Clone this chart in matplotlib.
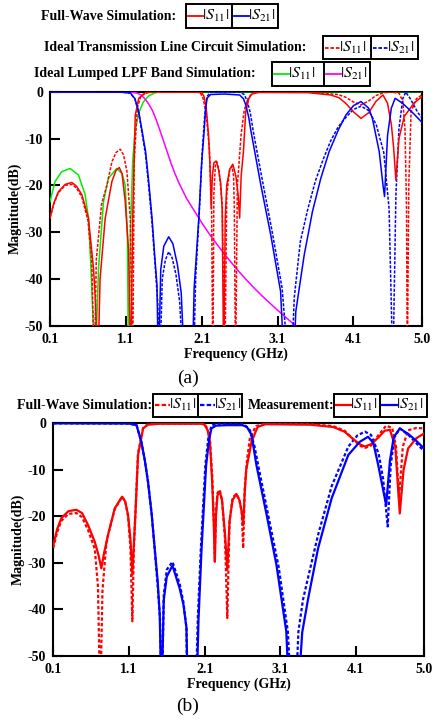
import numpy as np
import matplotlib
matplotlib.use('Agg')
from matplotlib import pyplot as plt
from matplotlib.patches import Rectangle

plt.rcParams['font.family'] = ['Liberation Serif', 'DejaVu Serif']
plt.rcParams['mathtext.fontset'] = 'stix'
plt.rcParams['axes.unicode_minus'] = False

# ---------------- data: panel (a) ----------------
# full-wave simulation |S11| (red solid)
a_fw_s11_f = [0.10, 0.15, 0.21, 0.30, 0.387, 0.45, 0.52, 0.607, 0.673, 0.70,
              0.73, 0.76, 0.828, 0.916, 0.97, 1.013, 1.05, 1.092, 1.136, 1.165,
              1.19, 1.224, 1.27, 1.36, 1.50, 2.00, 2.10, 2.13, 2.16, 2.19,
              2.21, 2.225, 2.24, 2.26, 2.29, 2.32, 2.35, 2.37, 2.39, 2.41,
              2.43, 2.47, 2.51, 2.55, 2.58, 2.60, 2.62, 2.65, 2.68, 2.72,
              2.76, 2.85, 3.50, 3.80, 3.91, 4.00, 4.10, 4.20, 4.30, 4.40,
              4.49, 4.55, 4.60, 4.63, 4.66, 4.70, 4.77, 4.90, 5.00]
a_fw_s11_db = [-27, -23.8, -21.4, -19.8, -19.4, -20.2, -22, -27, -37.7, -45,
               -60, -40, -27, -19.2, -16.8, -16.2, -17.5, -23.5, -34, -60,
               -27, -5, -1.4, -0.2, -0.05, -0.05, -0.2, -1.0, -3.5, -9.3,
               -16, -25, -18, -15.2, -14.8, -16.5, -19.5, -25, -60, -27,
               -20, -16.5, -15.5, -18, -22, -27, -18, -12.8, -4.3, -1.5,
               -0.5, -0.15, -0.2, -0.7, -1.3, -2.5, -4.3, -5.7, -4.5, -2.0,
               -0.7, -2.5, -7, -12, -18.9, -10, -5.3, -2.4, -1.1]

# full-wave simulation |S21| (blue solid)
a_fw_s21_f = [0.10, 1.00, 1.16, 1.22, 1.27, 1.31, 1.36, 1.40, 1.445, 1.48,
              1.51, 1.53, 1.56, 1.60, 1.665, 1.72, 1.78, 1.83, 1.876, 1.975,
              2.00, 2.062, 2.10, 2.128, 2.15, 2.17, 2.216, 2.40, 2.60, 2.65,
              2.68, 2.72, 2.75, 2.88, 3.01, 3.14, 3.19, 3.31, 3.34, 3.45,
              3.56, 3.67, 3.78, 3.90, 4.00, 4.10, 4.20, 4.30, 4.35, 4.44,
              4.49, 4.51, 4.55, 4.60, 4.65, 4.75, 4.90, 5.00]
a_fw_s21_db = [0, -0.02, -0.3, -1.5, -4.3, -8, -12.8, -19, -27, -35,
               -41.3, -60, -38, -33, -31, -32.5, -37, -43, -60, -60,
               -42, -27, -15, -9.3, -4, -1.4, -0.6, -0.5, -0.7, -1.5,
               -2.8, -5.5, -8.5, -20, -30.6, -42.7, -60, -60, -47, -35,
               -25.6, -18.5, -12.8, -8.2, -5.0, -3.0, -2.1, -3.5, -5.7, -12.8,
               -20, -22.4, -9.3, -3.5, -1.4, -2.5, -4.8, -6.5]

# ideal transmission line circuit |S11| (red dotted)
a_tl_s11_f = [0.10, 0.15, 0.21, 0.30, 0.39, 0.45, 0.52, 0.60, 0.65, 0.685,
              0.71, 0.78, 0.85, 0.916, 0.97, 1.026, 1.07, 1.114, 1.158, 1.19,
              1.21, 1.25, 1.30, 1.40, 2.00, 2.08, 2.12, 2.16, 2.20, 2.23,
              2.247, 2.26, 2.28, 2.30, 2.33, 2.37, 2.405, 2.43, 2.47, 2.50,
              2.52, 2.53, 2.546, 2.57, 2.62, 2.66, 2.71, 2.76, 2.85, 3.50,
              3.90, 4.00, 4.10, 4.20, 4.30, 4.40, 4.50, 4.60, 4.70, 4.75,
              4.78, 4.80, 4.81, 4.83, 4.86, 4.93, 5.00]
a_tl_s11_db = [-27, -24, -21.6, -20, -19.8, -20.6, -22.5, -27.5, -36, -60,
               -36, -24, -20, -15, -13, -12.3, -13.5, -17, -27, -60,
               -15, -3.5, -0.8, -0.1, -0.05, -0.2, -1.5, -5, -12, -25,
               -60, -22, -15.5, -15, -17, -24, -60, -22, -16.5, -16,
               -18, -25, -60, -20, -9, -4, -1.5, -0.4, -0.1, -0.1,
               -0.6, -1.2, -2.2, -2.8, -2.0, -0.8, -0.2, -0.1, -0.3, -2,
               -8, -25, -60, -20, -4.3, -1.5, -0.7]

# ideal transmission line circuit |S21| (blue dotted)
a_tl_s21_f = [0.10, 1.00, 1.16, 1.22, 1.27, 1.31, 1.36, 1.40, 1.445, 1.49,
              1.52, 1.546, 1.58, 1.62, 1.665, 1.71, 1.76, 1.81, 1.86, 1.99,
              2.02, 2.07, 2.11, 2.14, 2.17, 2.22, 2.60, 2.66, 2.70, 2.74,
              2.78, 2.90, 3.03, 3.16, 3.25, 3.28, 3.32, 3.40, 3.50, 3.60,
              3.70, 3.80, 3.90, 4.00, 4.10, 4.20, 4.30, 4.40, 4.50, 4.57,
              4.62, 4.66, 4.70, 4.75, 4.79, 4.85, 4.95, 5.00]
a_tl_s21_db = [0, -0.02, -0.3, -1.6, -4.6, -8.5, -13.5, -20, -28, -38,
               -45, -60, -40, -36, -34.2, -35.5, -39, -45, -60, -60,
               -40, -25, -12, -5, -1, -0.1, -0.1, -0.6, -2, -4.5,
               -8.5, -19, -30, -42, -60, -60, -44, -32, -25, -19,
               -14.5, -10.5, -7.5, -5.5, -3.8, -3.1, -4, -7, -13, -25,
               -60, -22, -8, -1.5, -0.1, -1.5, -4.5, -5.5]

# ideal lumped LPF band |S11| (green) and |S21| (magenta)
a_lp_s11_f = [0.10, 0.166, 0.254, 0.365, 0.475, 0.563, 0.607, 0.64, 0.695, 0.74,
              0.805, 0.87, 0.98, 1.05, 1.092, 1.12, 1.136, 1.16, 1.19, 1.22,
              1.27, 1.33, 1.40, 1.49, 1.60, 5.00]
a_lp_s11_db = [-23.5, -19.2, -17.1, -16.4, -17.8, -22, -27, -37.7, -60, -37.7,
               -23.5, -18.5, -16.4, -17.5, -20, -30.6, -60, -30, -15, -8.5,
               -4.5, -2.2, -0.9, -0.2, 0, 0]
a_lp_s21_f = [0.10, 1.00, 1.15, 1.25, 1.30, 1.35, 1.40, 1.45, 1.50, 1.55,
              1.60, 1.65, 1.70, 1.75, 1.80, 1.90, 2.00, 2.10, 2.20, 2.30,
              2.40, 2.50, 2.60, 2.70, 2.80, 2.90, 3.00, 3.10, 3.20, 3.30, 3.35]
a_lp_s21_db = [0, 0, -0.05, -0.3, -0.7, -1.5, -2.6, -4.0, -6.0, -8.3,
               -10.7, -13.1, -15.5, -17.6, -19.5, -22.8, -25.4, -28.0, -30.4, -32.6,
               -34.7, -36.7, -38.6, -40.4, -42.1, -43.7, -45.2, -46.7, -48.1, -49.5, -50.2]

# ---------------- data: panel (b) ----------------
# measurement |S11| (red solid)
b_ms_s11_f = [0.10, 0.15, 0.206, 0.30, 0.404, 0.48, 0.56, 0.648, 0.70, 0.735,
              0.77, 0.824, 0.912, 1.009, 1.05, 1.088, 1.12, 1.145, 1.165, 1.185,
              1.22, 1.287, 1.35, 1.50, 2.05, 2.10, 2.14, 2.17, 2.20, 2.22,
              2.235, 2.25, 2.27, 2.30, 2.33, 2.367, 2.40, 2.43, 2.47, 2.52,
              2.56, 2.59, 2.61, 2.63, 2.65, 2.72, 2.80, 2.90, 3.50, 3.80,
              3.95, 4.05, 4.15, 4.22, 4.30, 4.40, 4.48, 4.55, 4.62, 4.68,
              4.73, 4.79, 4.90, 5.00]
b_ms_s11_db = [-26.2, -22.8, -20.4, -18.9, -18.6, -19.3, -21.9, -25.5, -28.5, -31.2,
               -28, -24, -18.3, -15.8, -16.8, -19.7, -25, -32.6, -26, -19.7,
               -6.8, -1.1, -0.3, -0.1, -0.1, -0.3, -1.5, -4, -12.6, -21,
               -29.8, -20, -15.5, -14.7, -16.5, -23.3, -31.5, -21, -16.5, -15.2,
               -16.5, -19, -21.9, -15, -10, -4, -0.8, -0.2, -0.3, -0.8,
               -1.8, -3.2, -4.5, -5.0, -4.5, -3, -1.6, -1.4, -5, -19.4,
               -10, -5.4, -3.2, -2.2]

# measurement |S21| (blue solid)
b_ms_s21_f = [0.10, 1.10, 1.20, 1.264, 1.31, 1.352, 1.40, 1.44, 1.48, 1.507,
              1.53, 1.56, 1.60, 1.675, 1.77, 1.82, 1.86, 1.88, 1.99, 2.02,
              2.06, 2.12, 2.16, 2.19, 2.25, 2.40, 2.60, 2.66, 2.72, 2.785,
              2.92, 3.05, 3.18, 3.22, 3.33, 3.39, 3.47, 3.60, 3.78, 4.00,
              4.15, 4.26, 4.33, 4.395, 4.45, 4.50, 4.55, 4.60, 4.68, 4.80,
              4.90, 5.00]
b_ms_s21_db = [0, -0.05, -0.4, -4, -8, -12.6, -19.5, -26.9, -34, -41.2,
               -60, -38, -33, -30.6, -35.5, -39, -44, -60, -60, -42,
               -26.9, -9, -3.5, -1.1, -0.5, -0.4, -0.4, -0.8, -2.5, -9,
               -19.7, -30.5, -44.8, -60, -60, -45, -37.6, -26.9, -16.1, -6.8,
               -4.0, -2.9, -4.2, -9, -13.5, -17.6, -8, -3, -1.1, -2.4,
               -3.8, -5.4]

# full-wave simulation |S11| (red dotted)
b_fw_s11_f = [0.10, 0.15, 0.206, 0.30, 0.404, 0.48, 0.56, 0.648, 0.69, 0.72,
              0.75, 0.80, 0.824, 0.912, 1.009, 1.05, 1.088, 1.12, 1.145, 1.165,
              1.185, 1.22, 1.287, 1.35, 1.50, 2.05, 2.10, 2.14, 2.17, 2.20,
              2.22, 2.235, 2.25, 2.27, 2.30, 2.33, 2.37, 2.40, 2.43, 2.47,
              2.52, 2.56, 2.59, 2.61, 2.63, 2.66, 2.70, 2.78, 2.90, 3.50,
              3.80, 3.95, 4.05, 4.15, 4.22, 4.30, 4.40, 4.50, 4.58, 4.63,
              4.67, 4.72, 4.79, 4.90, 5.00]
b_fw_s11_db = [-26.8, -23.5, -21, -19.5, -19.3, -20.2, -23, -27, -35, -60,
               -36, -26, -24, -18.5, -15.8, -16.8, -20, -27, -42.6, -27,
               -19.5, -6.5, -1.0, -0.2, -0.05, -0.05, -0.2, -1.2, -3.5, -11,
               -20, -28, -19, -15, -14.3, -16.5, -25, -41.9, -21, -16,
               -15.2, -16.5, -19, -26.9, -14, -8, -3, -0.6, -0.1, -0.2,
               -0.6, -1.6, -3.2, -4.8, -5.3, -4.8, -2.5, -0.5, -1.0, -5,
               -16.1, -5, -1.5, -1.0, -1.1]

# full-wave simulation |S21| (blue dotted)
b_fw_s21_f = [0.10, 1.10, 1.20, 1.264, 1.31, 1.352, 1.40, 1.44, 1.48, 1.51,
              1.535, 1.56, 1.60, 1.675, 1.77, 1.82, 1.86, 1.87, 1.98, 2.01,
              2.05, 2.11, 2.15, 2.19, 2.25, 2.40, 2.62, 2.70, 2.76, 2.82,
              2.95, 3.08, 3.20, 3.25, 3.30, 3.34, 3.40, 3.47, 3.60, 3.78,
              4.00, 4.12, 4.22, 4.30, 4.40, 4.46, 4.52, 4.56, 4.61, 4.68,
              4.80, 4.90, 5.00]
b_fw_s21_db = [0, -0.05, -0.4, -4, -8, -12.6, -19.5, -27, -35, -42,
               -60, -37, -31.5, -29.8, -34.5, -38.5, -44, -60, -60, -42,
               -27, -9, -3, -0.5, -0.1, -0.1, -0.2, -1.5, -5, -10,
               -20.5, -31, -44.8, -60, -60, -44.8, -38, -33, -24, -13.5,
               -5, -2.6, -1.8, -2.5, -6.5, -12, -22.2, -9, -3, -1.1,
               -2.6, -4.3, -6.0]

# axes ticks
xticks = [0.1, 1.1, 2.1, 3.1, 4.1, 5.0]
xtick_labels = ['0.1', '1.1', '2.1', '3.1', '4.1', '5.0']
yticks = [0, -10, -20, -30, -40, -50]
ytick_labels = ['0', '-10', '-20', '-30', '-40', '-50']

RED, BLUE, GREEN, MAG = '#ff0000', '#0000ff', '#00ee00', '#ff00ff'
DOT = (0, (2, 1))

W, H = 432, 721
fig = plt.figure(figsize=(W / 100, H / 100), dpi=100)


def px_axes(x0, y0, x1, y1):
    return fig.add_axes([x0 / W, 1 - y1 / H, (x1 - x0) / W, (y1 - y0) / H])


def style(ax):
    ax.set_xlim(0.1, 5.0)
    ax.set_ylim(-50, 0)
    ax.set_xticks(xticks)
    ax.set_xticklabels(xtick_labels)
    ax.set_yticks(yticks)
    ax.set_yticklabels(ytick_labels)
    ax.tick_params(axis='both', direction='in', length=7, width=1.5, labelsize=10)
    ax.tick_params(axis='x', pad=5)
    ax.tick_params(axis='y', pad=5)
    for lab in ax.get_xticklabels() + ax.get_yticklabels():
        lab.set_fontweight('bold')
    for s in ax.spines.values():
        s.set_linewidth(1.5)
    ax.set_xlabel('Frequency (GHz)', fontsize=10, fontweight='bold', labelpad=1)
    ax.set_ylabel('Magnitude(dB)', fontsize=10, fontweight='bold', labelpad=2)


# panel (a)
ax_a = px_axes(50, 91.7, 421.7, 325.7)
lw = 1.1
ax_a.plot(a_lp_s11_f, a_lp_s11_db, color=GREEN, lw=lw, zorder=3)
ax_a.plot(a_lp_s21_f, a_lp_s21_db, color=MAG, lw=lw, zorder=3)
ax_a.plot(a_tl_s11_f, a_tl_s11_db, color=RED, lw=lw, ls=DOT, zorder=3)
ax_a.plot(a_tl_s21_f, a_tl_s21_db, color=BLUE, lw=lw, ls=DOT, zorder=3)
ax_a.plot(a_fw_s11_f, a_fw_s11_db, color=RED, lw=lw, zorder=3)
ax_a.plot(a_fw_s21_f, a_fw_s21_db, color=BLUE, lw=lw, zorder=3)
style(ax_a)

# panel (b)
ax_b = px_axes(53.3, 423.3, 424, 655.7)
lw = 1.6
ax_b.plot(b_fw_s11_f, b_fw_s11_db, color=RED, lw=lw, ls=(0, (1.5, 1)), zorder=3)
ax_b.plot(b_fw_s21_f, b_fw_s21_db, color=BLUE, lw=lw, ls=(0, (1.5, 1)), zorder=3)
ax_b.plot(b_ms_s11_f, b_ms_s11_db, color=RED, lw=lw, zorder=3)
ax_b.plot(b_ms_s21_f, b_ms_s21_db, color=BLUE, lw=lw, zorder=3)
style(ax_b)

# overlay in pixel coords for legends / captions
ov = fig.add_axes([0, 0, 1, 1])
ov.set_xlim(0, W)
ov.set_ylim(H, 0)
ov.axis('off')


def legend_box(title, title_x, x0, xm, x1, y0, y1, entries, lw_line=1.3):
    yc = (y0 + y1) / 2
    ov.text(title_x, yc, title, ha='right', va='center', fontsize=10, fontweight='bold')
    ov.add_patch(Rectangle((x0, y0), x1 - x0, y1 - y0, fill=False, ec='k', lw=1.4))
    ov.plot([xm, xm], [y0, y1], color='k', lw=1.4)
    for xa, (color, ls, label) in zip([x0, xm], entries):
        ov.plot([xa + 2, xa + 17], [yc, yc], color=color, ls=ls, lw=lw_line)
        ov.text(xa + 16, yc, label, ha='left', va='center', fontsize=11.5)


S11, S21 = r'$|S_{11}|$', r'$|S_{21}|$'
legend_box('Full-Wave Simulation:', 176, 186, 232, 278, 4.3, 28.3,
           [(RED, '-', S11), (BLUE, '-', S21)])
legend_box('Ideal Transmission Line Circuit Simulation:', 306, 323, 370.7, 418, 35.7, 59.3,
           [(RED, DOT, S11), (BLUE, DOT, S21)])
legend_box('Ideal Lumped LPF Band Simulation:', 256, 271.7, 324.3, 370, 61.7, 86,
           [(GREEN, '-', S11), (MAG, '-', S21)])
legend_box('Full-Wave Simulation:', 152, 153.3, 198.3, 242.3, 394, 416.7,
           [(RED, DOT, S11), (BLUE, DOT, S21)], lw_line=1.6)
legend_box('Measurement:', 334, 334.3, 380, 427, 394, 416.7,
           [(RED, '-', S11), (BLUE, '-', S21)], lw_line=1.6)

ov.text(188, 378, '(a)', ha='center', va='center', fontsize=14)
ov.text(188, 706, '(b)', ha='center', va='center', fontsize=14)

fig.savefig('out.png', dpi=100)
